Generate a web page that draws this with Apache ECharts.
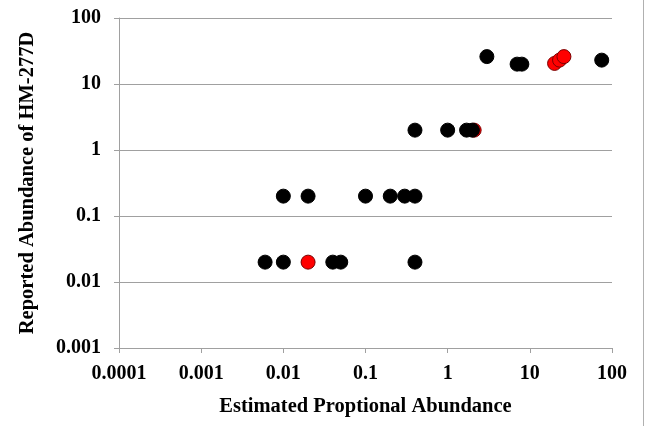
<!DOCTYPE html>
<html>
<head>
<meta charset="utf-8">
<script src="https://cdn.jsdelivr.net/npm/echarts@6/dist/echarts.min.js"></script>
<style>
html,body{margin:0;padding:0;background:#fff;}
#chart{width:654px;height:426px;}
</style>
</head>
<body>
<div id="chart"></div>
<script>
// Data
const xTickLabels = ['0.0001', '0.001', '0.01', '0.1', '1', '10', '100'];
const yTickLabels = ['0.001', '0.01', '0.1', '1', '10', '100'];

const blackX = [0.006, 0.01, 0.04, 0.05, 0.4, 0.01, 0.02, 0.1, 0.2, 0.3, 0.4, 0.4, 1, 1.7, 2, 3, 7, 8, 75];
const blackY = [0.02, 0.02, 0.02, 0.02, 0.02, 0.2, 0.2, 0.2, 0.2, 0.2, 0.2, 2, 2, 2, 2, 26, 20, 20, 23];

const redX = [0.02, 2.1, 20, 23, 26];
const redY = [0.02, 2, 20.5, 23, 26];

const xTitle = 'Estimated Proptional Abundance';
const yTitle = 'Reported Abundance of HM-277D';

function pairs(xs, ys) { return xs.map((x, i) => [x, ys[i]]); }
function labelFor(list, v) {
  const e = Math.round(Math.log10(v));
  const idx = list.findIndex(s => Math.round(Math.log10(parseFloat(s))) === e);
  return idx >= 0 ? list[idx] : '';
}

const font = 'Liberation Serif, Times New Roman, serif';
const gray = '#a0a0a0';

const chart = echarts.init(document.getElementById('chart'), null, {renderer: 'canvas'});
chart.setOption({
  animation: false,
  backgroundColor: '#ffffff',
  grid: {left: 119, right: 42, top: 18, bottom: 78, containLabel: false},
  xAxis: {
    type: 'log', logBase: 10, min: 0.0001, max: 100,
    name: xTitle, nameLocation: 'middle', nameGap: 48,
    nameTextStyle: {fontFamily: font, fontWeight: 'bold', fontSize: 20.5, color: '#000'},
    axisLine: {show: true, lineStyle: {color: gray, width: 1}},
    axisTick: {show: true, inside: false, length: 5, lineStyle: {color: gray}},
    axisLabel: {fontFamily: font, fontWeight: 'bold', fontSize: 20, color: '#000', margin: 16,
      formatter: v => labelFor(xTickLabels, v)},
    splitLine: {show: false},
    minorTick: {show: false}
  },
  yAxis: {
    type: 'log', logBase: 10, min: 0.001, max: 100,
    name: yTitle, nameLocation: 'middle', nameGap: 81, nameRotate: 90,
    nameTextStyle: {fontFamily: font, fontWeight: 'bold', fontSize: 20.5, color: '#000'},
    axisLine: {show: true, lineStyle: {color: gray, width: 1}},
    axisTick: {show: true, inside: false, length: 5, lineStyle: {color: gray}},
    axisLabel: {fontFamily: font, fontWeight: 'bold', fontSize: 20, color: '#000', margin: 18,
      formatter: v => labelFor(yTickLabels, v)},
    splitLine: {show: true, lineStyle: {color: gray, width: 1}},
    minorTick: {show: false}
  },
  series: [
    {
      name: 'red', type: 'scatter', symbol: 'circle', symbolSize: 14,
      itemStyle: {color: '#ff0000', borderColor: '#7a0000', borderWidth: 1, opacity: 1},
      data: pairs(redX, redY), z: 2
    },
    {
      name: 'black', type: 'scatter', symbol: 'circle', symbolSize: 14,
      itemStyle: {color: '#000000', borderColor: '#000000', borderWidth: 1, opacity: 1},
      data: pairs(blackX, blackY), z: 3
    }
  ],
  graphic: [
    {type: 'line', shape: {x1: 643.5, y1: 0, x2: 643.5, y2: 426}, style: {stroke: '#b0b0b0', lineWidth: 1}, silent: true}
  ]
});
</script>
</body>
</html>
